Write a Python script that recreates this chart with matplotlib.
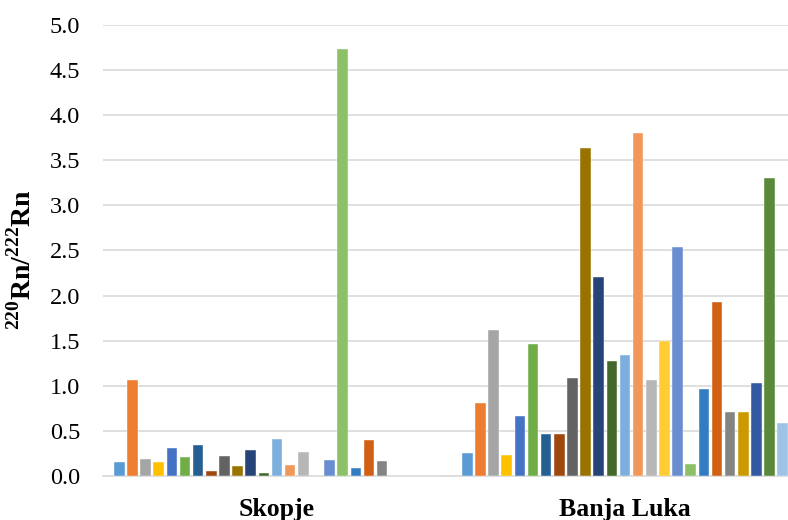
import matplotlib.pyplot as plt
import numpy as np

plt.rcParams['font.family'] = ['Liberation Serif', 'DejaVu Serif']
plt.rcParams['mathtext.fontset'] = 'custom'
plt.rcParams['mathtext.rm'] = 'Liberation Serif:bold'
plt.rcParams['mathtext.bf'] = 'Liberation Serif:bold'

cities = ["Skopje", "Banja Luka"]

# 25 series, value per city (0 = no bar)
skopje = [0.16, 1.06, 0.19, 0.15, 0.31, 0.21, 0.34, 0.05, 0.22, 0.11,
          0.29, 0.03, 0.41, 0.12, 0.27, 0.0, 0.18, 4.73, 0.09, 0.40,
          0.17, 0.0, 0.0, 0.0, 0.0]
banja_luka = [0.26, 0.81, 1.62, 0.23, 0.67, 1.46, 0.47, 0.47, 1.09, 3.64,
              2.21, 1.27, 1.34, 3.80, 1.06, 1.50, 2.54, 0.13, 0.96, 1.93,
              0.71, 0.71, 1.03, 3.30, 0.59]

colors = ["#5B9BD5", "#ED7D31", "#A5A5A5", "#FFC000", "#4472C4", "#70AD47",
          "#255E91", "#9E480E", "#636363", "#997300", "#264478", "#43682B",
          "#7CAFDD", "#F1975A", "#B7B7B7", "#FFCD33", "#698ED0", "#8CC168",
          "#327DC2", "#D26012", "#848484", "#CC9A00", "#335AA1", "#5A8A39",
          "#9DC3E6"]

fig = plt.figure(figsize=(7.88, 5.2), dpi=100)
ax = fig.add_axes([103 / 788, 44 / 520, 696 / 788, 451 / 520])

x = np.arange(len(cities))
n = len(skopje)
slot = 13.14 / 348
bw = 10.5 / 348
for i in range(n):
    vals = [skopje[i], banja_luka[i]]
    ax.bar(x + (i - (n - 1) / 2) * slot, vals, width=bw, color=colors[i],
           edgecolor="white", linewidth=0.3, zorder=3)

ax.set_xlim(-0.5, 1.5)
ax.set_ylim(0, 5)
ticks = np.arange(0, 5.01, 0.5)
ax.set_yticks(ticks)
ax.set_yticklabels([f"{v:.1f}" for v in ticks], fontsize=17.5)
ax.set_xticks(x)
ax.set_xticklabels(cities, fontsize=18.5, fontweight="bold")
ax.tick_params(axis="both", length=0)
ax.tick_params(axis="y", pad=16.5)
ax.tick_params(axis="x", pad=16)
ax.grid(axis="y", color="#D9D9D9", linewidth=1.2, zorder=0)
for s in ["top", "right", "left"]:
    ax.spines[s].set_visible(False)
ax.spines["bottom"].set_color("#D9D9D9")
ax.spines["bottom"].set_linewidth(1.2)

ax.set_ylabel(r"$^{220}$Rn/$^{222}$Rn", fontsize=20, fontweight="bold")
ax.yaxis.set_label_coords((37 - 103) / 696, 0.48)

fig.savefig("out.png", dpi=100)
